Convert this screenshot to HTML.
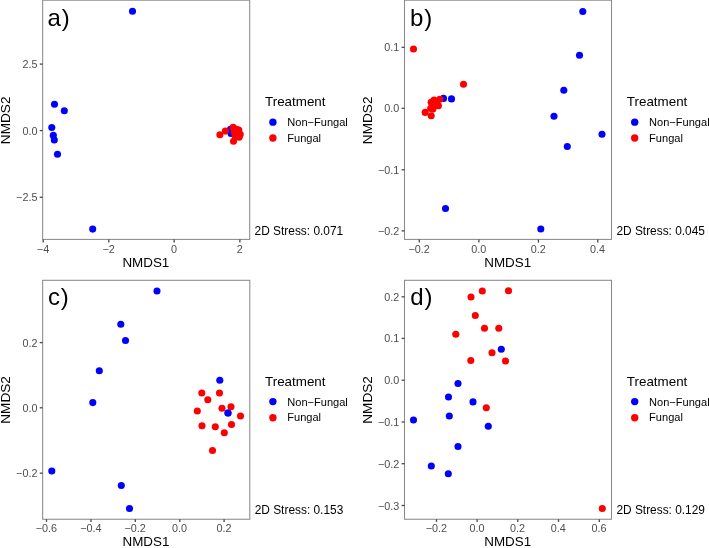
<!DOCTYPE html>
<html><head><meta charset="utf-8"><title>NMDS</title>
<style>
html,body{margin:0;padding:0;background:#fff;}
body{width:709px;height:548px;overflow:hidden;}
svg{display:block;font-family:"Liberation Sans",sans-serif;will-change:transform;transform:translateZ(0);}
.tk{font-size:10.8px;fill:#4d4d4d;}
.ti{font-size:13.4px;fill:#000;}
.lg{font-size:11.05px;fill:#000;}
.lt{font-size:13.4px;fill:#000;}
.st{font-size:11.9px;fill:#000;}
.lb{font-size:24px;fill:#000;}
</style></head><body>
<svg width="709" height="548" viewBox="0 0 709 548">
<rect x="0" y="0" width="709" height="548" fill="#ffffff"/>
<g>
<circle cx="132.5" cy="11.3" r="3.55" fill="#0000ff"/><circle cx="54.5" cy="104.3" r="3.55" fill="#0000ff"/><circle cx="64.3" cy="110.7" r="3.55" fill="#0000ff"/><circle cx="51.8" cy="127.5" r="3.55" fill="#0000ff"/><circle cx="53.3" cy="135.4" r="3.55" fill="#0000ff"/><circle cx="54.3" cy="140.0" r="3.55" fill="#0000ff"/><circle cx="57.5" cy="154.3" r="3.55" fill="#0000ff"/><circle cx="92.7" cy="229.1" r="3.55" fill="#0000ff"/><circle cx="230.5" cy="129.4" r="3.55" fill="#0000ff"/><circle cx="231.0" cy="133.4" r="3.55" fill="#0000ff"/>
<circle cx="219.9" cy="134.7" r="3.55" fill="#ff0000"/><circle cx="225.4" cy="131.1" r="3.55" fill="#ff0000"/><circle cx="233.1" cy="127.3" r="3.55" fill="#ff0000"/><circle cx="233.5" cy="141.2" r="3.55" fill="#ff0000"/><circle cx="236.6" cy="129.2" r="3.55" fill="#ff0000"/><circle cx="240.2" cy="134.4" r="3.55" fill="#ff0000"/><circle cx="239.1" cy="137.2" r="3.55" fill="#ff0000"/><circle cx="234.5" cy="132.2" r="3.55" fill="#ff0000"/><circle cx="238.8" cy="130.1" r="3.55" fill="#ff0000"/><circle cx="235.1" cy="135.4" r="3.55" fill="#ff0000"/><circle cx="234.8" cy="130.2" r="3.55" fill="#ff0000"/><circle cx="237.8" cy="133.2" r="3.55" fill="#ff0000"/>
<rect x="42.65" y="0.20" width="207.05" height="239.20" fill="none" stroke="#8a8a8a" stroke-width="1.05"/>
<line x1="43.20" y1="239.40" x2="43.20" y2="242.60" stroke="#484848" stroke-width="1.3"/>
<text class="tk" x="43.00" y="252.80" text-anchor="middle">−4</text>
<line x1="108.80" y1="239.40" x2="108.80" y2="242.60" stroke="#484848" stroke-width="1.3"/>
<text class="tk" x="108.60" y="252.80" text-anchor="middle">−2</text>
<line x1="174.20" y1="239.40" x2="174.20" y2="242.60" stroke="#484848" stroke-width="1.3"/>
<text class="tk" x="174.00" y="252.80" text-anchor="middle">0</text>
<line x1="239.90" y1="239.40" x2="239.90" y2="242.60" stroke="#484848" stroke-width="1.3"/>
<text class="tk" x="239.70" y="252.80" text-anchor="middle">2</text>
<line x1="39.75" y1="64.10" x2="42.65" y2="64.10" stroke="#484848" stroke-width="1.3"/>
<text class="tk" x="37.45" y="68.10" text-anchor="end">2.5</text>
<line x1="39.75" y1="130.60" x2="42.65" y2="130.60" stroke="#484848" stroke-width="1.3"/>
<text class="tk" x="37.45" y="134.60" text-anchor="end">0.0</text>
<line x1="39.75" y1="197.30" x2="42.65" y2="197.30" stroke="#484848" stroke-width="1.3"/>
<text class="tk" x="37.45" y="201.30" text-anchor="end">−2.5</text>
<text class="ti" x="145.87" y="266.80" text-anchor="middle">NMDS1</text>
<text class="ti" style="font-size:13.6px" transform="translate(10.30,120.35) rotate(-90)" text-anchor="middle">NMDS2</text>
<text class="lb" x="47.40" y="25.60">a<tspan dx="1.10">)</tspan></text>
<text class="lt" x="265.00" y="105.85">Treatment</text>
<circle cx="272.90" cy="122.15" r="3.70" fill="#0000ff"/>
<circle cx="272.90" cy="137.95" r="3.70" fill="#ff0000"/>
<text class="lg" x="287.30" y="126.35">Non−Fungal</text>
<text class="lg" x="287.30" y="142.25">Fungal</text>
<text class="st" x="254.60" y="234.80">2D Stress: 0.071</text>
</g>
<g>
<circle cx="582.8" cy="11.5" r="3.55" fill="#0000ff"/><circle cx="579.5" cy="55.3" r="3.55" fill="#0000ff"/><circle cx="563.8" cy="90.3" r="3.55" fill="#0000ff"/><circle cx="554.0" cy="116.3" r="3.55" fill="#0000ff"/><circle cx="602.0" cy="134.2" r="3.55" fill="#0000ff"/><circle cx="567.3" cy="146.5" r="3.55" fill="#0000ff"/><circle cx="540.8" cy="229.0" r="3.55" fill="#0000ff"/><circle cx="445.5" cy="208.5" r="3.55" fill="#0000ff"/><circle cx="451.5" cy="98.9" r="3.55" fill="#0000ff"/><circle cx="443.5" cy="98.4" r="3.55" fill="#0000ff"/>
<circle cx="413.5" cy="49.0" r="3.55" fill="#ff0000"/><circle cx="463.5" cy="84.3" r="3.55" fill="#ff0000"/><circle cx="439.8" cy="99.2" r="3.55" fill="#ff0000"/><circle cx="434.1" cy="100.0" r="3.55" fill="#ff0000"/><circle cx="431.2" cy="102.2" r="3.55" fill="#ff0000"/><circle cx="436.9" cy="101.8" r="3.55" fill="#ff0000"/><circle cx="438.4" cy="105.8" r="3.55" fill="#ff0000"/><circle cx="434.0" cy="105.4" r="3.55" fill="#ff0000"/><circle cx="430.7" cy="108.4" r="3.55" fill="#ff0000"/><circle cx="432.9" cy="109.1" r="3.55" fill="#ff0000"/><circle cx="425.2" cy="112.4" r="3.55" fill="#ff0000"/><circle cx="431.2" cy="115.7" r="3.55" fill="#ff0000"/>
<rect x="404.50" y="0.20" width="207.00" height="239.20" fill="none" stroke="#8a8a8a" stroke-width="1.05"/>
<line x1="419.30" y1="239.40" x2="419.30" y2="242.60" stroke="#484848" stroke-width="1.3"/>
<text class="tk" x="419.10" y="252.80" text-anchor="middle">−0.2</text>
<line x1="478.90" y1="239.40" x2="478.90" y2="242.60" stroke="#484848" stroke-width="1.3"/>
<text class="tk" x="478.70" y="252.80" text-anchor="middle">0.0</text>
<line x1="538.40" y1="239.40" x2="538.40" y2="242.60" stroke="#484848" stroke-width="1.3"/>
<text class="tk" x="538.20" y="252.80" text-anchor="middle">0.2</text>
<line x1="597.80" y1="239.40" x2="597.80" y2="242.60" stroke="#484848" stroke-width="1.3"/>
<text class="tk" x="597.60" y="252.80" text-anchor="middle">0.4</text>
<line x1="401.60" y1="47.30" x2="404.50" y2="47.30" stroke="#484848" stroke-width="1.3"/>
<text class="tk" x="399.30" y="51.30" text-anchor="end">0.1</text>
<line x1="401.60" y1="108.30" x2="404.50" y2="108.30" stroke="#484848" stroke-width="1.3"/>
<text class="tk" x="399.30" y="112.30" text-anchor="end">0.0</text>
<line x1="401.60" y1="169.80" x2="404.50" y2="169.80" stroke="#484848" stroke-width="1.3"/>
<text class="tk" x="399.30" y="173.80" text-anchor="end">−0.1</text>
<line x1="401.60" y1="230.90" x2="404.50" y2="230.90" stroke="#484848" stroke-width="1.3"/>
<text class="tk" x="399.30" y="234.90" text-anchor="end">−0.2</text>
<text class="ti" x="507.70" y="266.80" text-anchor="middle">NMDS1</text>
<text class="ti" style="font-size:13.6px" transform="translate(371.90,120.35) rotate(-90)" text-anchor="middle">NMDS2</text>
<text class="lb" x="410.00" y="25.60">b<tspan dx="1.00">)</tspan></text>
<text class="lt" x="626.80" y="105.85">Treatment</text>
<circle cx="634.70" cy="122.15" r="3.70" fill="#0000ff"/>
<circle cx="634.70" cy="137.95" r="3.70" fill="#ff0000"/>
<text class="lg" x="649.10" y="126.35">Non−Fungal</text>
<text class="lg" x="649.10" y="142.25">Fungal</text>
<text class="st" x="616.40" y="234.80">2D Stress: 0.045</text>
</g>
<g>
<circle cx="157.0" cy="291.0" r="3.55" fill="#0000ff"/><circle cx="120.8" cy="324.3" r="3.55" fill="#0000ff"/><circle cx="125.5" cy="340.5" r="3.55" fill="#0000ff"/><circle cx="99.3" cy="370.8" r="3.55" fill="#0000ff"/><circle cx="92.8" cy="402.6" r="3.55" fill="#0000ff"/><circle cx="51.8" cy="471.0" r="3.55" fill="#0000ff"/><circle cx="121.3" cy="485.5" r="3.55" fill="#0000ff"/><circle cx="129.5" cy="508.5" r="3.55" fill="#0000ff"/><circle cx="219.8" cy="380.3" r="3.55" fill="#0000ff"/><circle cx="228.0" cy="413.0" r="3.55" fill="#0000ff"/>
<circle cx="201.8" cy="393.0" r="3.55" fill="#ff0000"/><circle cx="219.5" cy="393.0" r="3.55" fill="#ff0000"/><circle cx="207.8" cy="399.8" r="3.55" fill="#ff0000"/><circle cx="231.0" cy="406.8" r="3.55" fill="#ff0000"/><circle cx="222.0" cy="408.3" r="3.55" fill="#ff0000"/><circle cx="197.3" cy="411.0" r="3.55" fill="#ff0000"/><circle cx="240.5" cy="416.0" r="3.55" fill="#ff0000"/><circle cx="202.0" cy="425.8" r="3.55" fill="#ff0000"/><circle cx="215.3" cy="426.8" r="3.55" fill="#ff0000"/><circle cx="231.5" cy="424.5" r="3.55" fill="#ff0000"/><circle cx="224.3" cy="432.8" r="3.55" fill="#ff0000"/><circle cx="212.5" cy="450.5" r="3.55" fill="#ff0000"/>
<circle cx="228.0" cy="413.0" r="3.55" fill="#0000ff"/>
<rect x="42.65" y="280.30" width="207.15" height="238.95" fill="none" stroke="#8a8a8a" stroke-width="1.05"/>
<line x1="46.50" y1="519.25" x2="46.50" y2="521.90" stroke="#484848" stroke-width="1.3"/>
<text class="tk" x="46.30" y="532.10" text-anchor="middle">−0.6</text>
<line x1="91.00" y1="519.25" x2="91.00" y2="521.90" stroke="#484848" stroke-width="1.3"/>
<text class="tk" x="90.80" y="532.10" text-anchor="middle">−0.4</text>
<line x1="135.30" y1="519.25" x2="135.30" y2="521.90" stroke="#484848" stroke-width="1.3"/>
<text class="tk" x="135.10" y="532.10" text-anchor="middle">−0.2</text>
<line x1="179.80" y1="519.25" x2="179.80" y2="521.90" stroke="#484848" stroke-width="1.3"/>
<text class="tk" x="179.60" y="532.10" text-anchor="middle">0.0</text>
<line x1="224.10" y1="519.25" x2="224.10" y2="521.90" stroke="#484848" stroke-width="1.3"/>
<text class="tk" x="223.90" y="532.10" text-anchor="middle">0.2</text>
<line x1="39.75" y1="342.60" x2="42.65" y2="342.60" stroke="#484848" stroke-width="1.3"/>
<text class="tk" x="37.45" y="346.60" text-anchor="end">0.2</text>
<line x1="39.75" y1="407.80" x2="42.65" y2="407.80" stroke="#484848" stroke-width="1.3"/>
<text class="tk" x="37.45" y="411.80" text-anchor="end">0.0</text>
<line x1="39.75" y1="473.20" x2="42.65" y2="473.20" stroke="#484848" stroke-width="1.3"/>
<text class="tk" x="37.45" y="477.20" text-anchor="end">−0.2</text>
<text class="ti" x="145.92" y="546.30" text-anchor="middle">NMDS1</text>
<text class="ti" style="font-size:13.6px" transform="translate(10.30,399.95) rotate(-90)" text-anchor="middle">NMDS2</text>
<text class="lb" x="48.10" y="305.20">c<tspan dx="0.70">)</tspan></text>
<text class="lt" x="265.00" y="385.90">Treatment</text>
<circle cx="272.90" cy="401.60" r="3.70" fill="#0000ff"/>
<circle cx="272.90" cy="417.70" r="3.70" fill="#ff0000"/>
<text class="lg" x="287.30" y="405.60">Non−Fungal</text>
<text class="lg" x="287.30" y="421.35">Fungal</text>
<text class="st" x="254.70" y="514.30">2D Stress: 0.153</text>
</g>
<g>
<circle cx="501.3" cy="349.3" r="3.55" fill="#0000ff"/><circle cx="458.0" cy="383.5" r="3.55" fill="#0000ff"/><circle cx="448.5" cy="397.0" r="3.55" fill="#0000ff"/><circle cx="473.0" cy="401.9" r="3.55" fill="#0000ff"/><circle cx="449.3" cy="416.0" r="3.55" fill="#0000ff"/><circle cx="413.5" cy="420.0" r="3.55" fill="#0000ff"/><circle cx="488.3" cy="426.3" r="3.55" fill="#0000ff"/><circle cx="458.0" cy="446.5" r="3.55" fill="#0000ff"/><circle cx="431.3" cy="466.0" r="3.55" fill="#0000ff"/><circle cx="448.3" cy="473.8" r="3.55" fill="#0000ff"/>
<circle cx="482.3" cy="291.0" r="3.55" fill="#ff0000"/><circle cx="508.5" cy="290.8" r="3.55" fill="#ff0000"/><circle cx="471.0" cy="297.0" r="3.55" fill="#ff0000"/><circle cx="475.3" cy="315.5" r="3.55" fill="#ff0000"/><circle cx="484.5" cy="328.3" r="3.55" fill="#ff0000"/><circle cx="498.8" cy="328.3" r="3.55" fill="#ff0000"/><circle cx="455.8" cy="334.3" r="3.55" fill="#ff0000"/><circle cx="492.0" cy="352.8" r="3.55" fill="#ff0000"/><circle cx="470.8" cy="360.5" r="3.55" fill="#ff0000"/><circle cx="505.5" cy="361.0" r="3.55" fill="#ff0000"/><circle cx="486.3" cy="407.8" r="3.55" fill="#ff0000"/><circle cx="602.3" cy="508.5" r="3.55" fill="#ff0000"/>
<rect x="404.50" y="280.30" width="207.00" height="238.95" fill="none" stroke="#8a8a8a" stroke-width="1.05"/>
<line x1="436.50" y1="519.25" x2="436.50" y2="521.90" stroke="#484848" stroke-width="1.3"/>
<text class="tk" x="436.30" y="532.10" text-anchor="middle">−0.2</text>
<line x1="477.10" y1="519.25" x2="477.10" y2="521.90" stroke="#484848" stroke-width="1.3"/>
<text class="tk" x="476.90" y="532.10" text-anchor="middle">0.0</text>
<line x1="517.80" y1="519.25" x2="517.80" y2="521.90" stroke="#484848" stroke-width="1.3"/>
<text class="tk" x="517.60" y="532.10" text-anchor="middle">0.2</text>
<line x1="558.50" y1="519.25" x2="558.50" y2="521.90" stroke="#484848" stroke-width="1.3"/>
<text class="tk" x="558.30" y="532.10" text-anchor="middle">0.4</text>
<line x1="599.30" y1="519.25" x2="599.30" y2="521.90" stroke="#484848" stroke-width="1.3"/>
<text class="tk" x="599.10" y="532.10" text-anchor="middle">0.6</text>
<line x1="401.60" y1="296.80" x2="404.50" y2="296.80" stroke="#484848" stroke-width="1.3"/>
<text class="tk" x="399.30" y="300.80" text-anchor="end">0.2</text>
<line x1="401.60" y1="338.40" x2="404.50" y2="338.40" stroke="#484848" stroke-width="1.3"/>
<text class="tk" x="399.30" y="342.40" text-anchor="end">0.1</text>
<line x1="401.60" y1="380.20" x2="404.50" y2="380.20" stroke="#484848" stroke-width="1.3"/>
<text class="tk" x="399.30" y="384.20" text-anchor="end">0.0</text>
<line x1="401.60" y1="422.00" x2="404.50" y2="422.00" stroke="#484848" stroke-width="1.3"/>
<text class="tk" x="399.30" y="426.00" text-anchor="end">−0.1</text>
<line x1="401.60" y1="463.70" x2="404.50" y2="463.70" stroke="#484848" stroke-width="1.3"/>
<text class="tk" x="399.30" y="467.70" text-anchor="end">−0.2</text>
<line x1="401.60" y1="505.50" x2="404.50" y2="505.50" stroke="#484848" stroke-width="1.3"/>
<text class="tk" x="399.30" y="509.50" text-anchor="end">−0.3</text>
<text class="ti" x="507.70" y="546.30" text-anchor="middle">NMDS1</text>
<text class="ti" style="font-size:13.6px" transform="translate(371.90,399.95) rotate(-90)" text-anchor="middle">NMDS2</text>
<text class="lb" x="410.30" y="305.10">d<tspan dx="0.80">)</tspan></text>
<text class="lt" x="626.80" y="385.90">Treatment</text>
<circle cx="634.70" cy="401.60" r="3.70" fill="#0000ff"/>
<circle cx="634.70" cy="417.70" r="3.70" fill="#ff0000"/>
<text class="lg" x="649.10" y="405.60">Non−Fungal</text>
<text class="lg" x="649.10" y="421.35">Fungal</text>
<text class="st" x="616.40" y="514.30">2D Stress: 0.129</text>
</g>
</svg></body></html>
